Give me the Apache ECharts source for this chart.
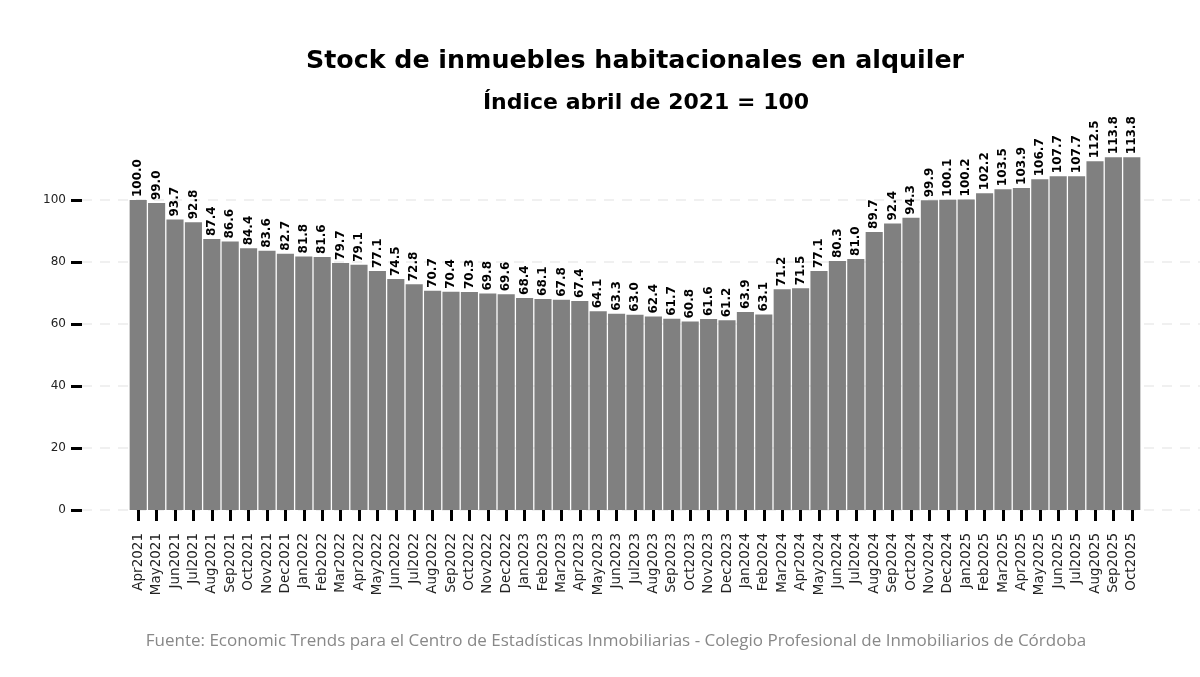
<!DOCTYPE html>
<html>
<head>
<meta charset="utf-8">
<script src="https://cdn.jsdelivr.net/npm/echarts@6/dist/echarts.min.js"></script>
<style>
  html, body { margin: 0; padding: 0; background: #fff; }
  #chart { width: 1200px; height: 677px; }
</style>
</head>
<body>
<div id="chart"></div>
<script>
// meses (abril 2021 - octubre 2025)
const months = [
  'Apr2021','May2021','Jun2021','Jul2021','Aug2021','Sep2021','Oct2021','Nov2021','Dec2021',
  'Jan2022','Feb2022','Mar2022','Apr2022','May2022','Jun2022','Jul2022','Aug2022','Sep2022','Oct2022','Nov2022','Dec2022',
  'Jan2023','Feb2023','Mar2023','Apr2023','May2023','Jun2023','Jul2023','Aug2023','Sep2023','Oct2023','Nov2023','Dec2023',
  'Jan2024','Feb2024','Mar2024','Apr2024','May2024','Jun2024','Jul2024','Aug2024','Sep2024','Oct2024','Nov2024','Dec2024',
  'Jan2025','Feb2025','Mar2025','Apr2025','May2025','Jun2025','Jul2025','Aug2025','Sep2025','Oct2025'
]
// indice, abril 2021 = 100
const stockIndex = [
  100.0, 99.0, 93.7, 92.8, 87.4, 86.6, 84.4, 83.6, 82.7,
  81.8, 81.6, 79.7, 79.1, 77.1, 74.5, 72.8, 70.7, 70.4, 70.3, 69.8, 69.6,
  68.4, 68.1, 67.8, 67.4, 64.1, 63.3, 63.0, 62.4, 61.7, 60.8, 61.6, 61.2,
  63.9, 63.1, 71.2, 71.5, 77.1, 80.3, 81.0, 89.7, 92.4, 94.3, 99.9, 100.1,
  100.2, 102.2, 103.5, 103.9, 106.7, 107.7, 107.7, 112.5, 113.8, 113.8
]
const yTicks = [0, 20, 40, 60, 80, 100]

const chart = echarts.init(document.getElementById('chart'))

const option = {
  backgroundColor: '#fff',
  animation: false,
  textStyle: { fontFamily: 'DejaVu Sans' },
  title: [
    {
      text: 'Stock de inmuebles habitacionales en alquiler',
      left: 630, top: 44, textAlign: 'center',
      textStyle: { fontSize: 25.3, fontWeight: 'bold', color: '#000', fontFamily: 'DejaVu Sans' }
    },
    {
      text: 'Índice abril de 2021 = 100',
      left: 641, top: 87, textAlign: 'center',
      textStyle: { fontSize: 22, fontWeight: 'bold', color: '#000', fontFamily: 'DejaVu Sans' }
    },
    {
      text: 'Fuente: Economic Trends para el Centro de Estadísticas Inmobiliarias - Colegio Profesional de Inmobiliarios de Córdoba',
      left: 611, top: 628, textAlign: 'center',
      textStyle: { fontSize: 17, fontWeight: 'normal', color: '#888', fontFamily: 'Open Sans' }
    }
  ],
  grid: [
    // fondo con lineas guia
    { left: 82, right: 0, top: 138, bottom: 167 },
    // barras
    { left: 129, right: 59, top: 138, bottom: 167 }
  ],
  xAxis: [
    { type: 'value', gridIndex: 0, show: false, min: 0, max: 1 },
    {
      type: 'category', gridIndex: 1, data: months, offset: 2,
      axisLine: { show: false },
      axisTick: { show: true, alignWithLabel: true, length: 11, lineStyle: { color: '#000', width: 3 } },
      axisLabel: { rotate: 90, interval: 0, fontSize: 13.5, color: '#222', margin: 21 },
      splitLine: { show: false }
    }
  ],
  yAxis: [
    {
      type: 'value', gridIndex: 0, min: 0, max: 120, interval: 20, offset: 3,
      axisLine: { show: false },
      axisTick: { show: true, length: 11, customValues: yTicks, lineStyle: { color: '#000', width: 3 } },
      axisLabel: { fontSize: 12, color: '#222', margin: 13, customValues: yTicks },
      splitLine: {
        show: true,
        lineStyle: {
          type: [10, 8],
          width: 1.5,
          color: ['#ebebeb', '#ebebeb', '#ebebeb', '#ebebeb', '#ebebeb', '#ebebeb', 'rgba(0,0,0,0)']
        }
      }
    },
    { type: 'value', gridIndex: 1, min: 0, max: 120, show: false, splitLine: { show: false } }
  ],
  series: [
    {
      type: 'bar',
      xAxisIndex: 1, yAxisIndex: 1,
      data: stockIndex,
      barCategoryGap: '7%',
      itemStyle: { color: '#808080' },
      label: {
        show: true,
        position: 'top',
        rotate: 90,
        align: 'left',
        verticalAlign: 'middle',
        distance: 3,
        fontSize: 12,
        fontWeight: 'bold',
        color: '#000',
        formatter: p => p.value.toFixed(1)
      }
    }
  ]
}

chart.setOption(option)
window.addEventListener('resize', function () {
  chart.resize()
})
</script>
</body>
</html>
